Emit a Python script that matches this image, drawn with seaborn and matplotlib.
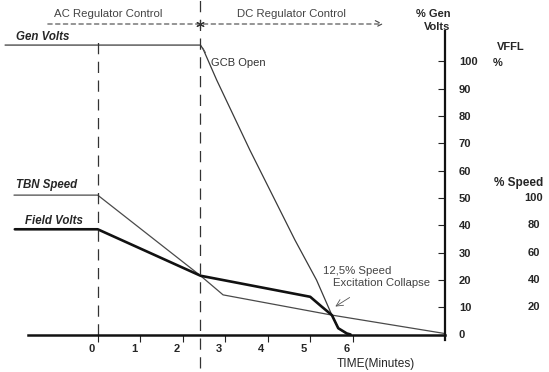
import matplotlib
matplotlib.use("Agg")
import matplotlib.pyplot as plt
import seaborn as sns
import pandas as pd

sns.set_theme(style="white")
plt.rcParams['font.family'] = ['Liberation Sans', 'DejaVu Sans']

# ---- data (time in minutes, value in % gen volts scale) ----
gen_t = [-2.18, 2.42, 2.49, 2.80, 3.58, 4.64, 5.15, 5.51, 5.66, 5.86]
gen_v = [105.9, 105.9, 104.1, 93.1, 67.5, 34.6, 19.9, 7.1, 2.3, 0.2]

tbn_t = [-1.97, 0.0, 2.42, 2.95, 5.51, 8.15]
tbn_v = [51.0, 51.0, 21.5, 14.5, 7.1, 0.4]

fld_t = [-1.95, 0.0, 2.42, 5.00, 5.27, 5.51, 5.66, 5.86, 5.95]
fld_v = [38.5, 38.5, 21.5, 13.8, 10.2, 7.1, 2.3, 0.4, 0.0]

x_ticks = [0, 1, 2, 3, 4, 5, 6]
y_ticks = [0, 10, 20, 30, 40, 50, 60, 70, 80, 90, 100]
speed_labels = ["100", "80", "60", "40", "20"]
speed_at = [50, 40, 30, 20, 10]
axis_t = 8.17
dc_start_t = 2.41

W, H = 549, 372
fig = plt.figure(figsize=(W / 100, H / 100), dpi=100)
ax = fig.add_axes([0, 0, 1, 1])

# pixel mapping: t=0 -> x 97.7, 42.5 px/min ; v=0 -> y 334.5, 2.733 px/unit
x0, sx = 97.7, 42.5
y0, sy = 334.5, 2.733
ax.set_xlim(-x0 / sx, (W - x0) / sx)
ax.set_ylim((y0 - H) / sy, y0 / sy)

def P(x, y):
    return ((x - x0) / sx, (y0 - y) / sy)

gen = pd.DataFrame({"t": gen_t, "v": gen_v})
tbn = pd.DataFrame({"t": tbn_t, "v": tbn_v})
fld = pd.DataFrame({"t": fld_t, "v": fld_v})

sns.lineplot(data=gen, x="t", y="v", ax=ax, sort=False, color="#3a3a3a", lw=0.9, estimator=None)
sns.lineplot(data=tbn, x="t", y="v", ax=ax, sort=False, color="#4a4a4a", lw=0.9, estimator=None)
sns.lineplot(data=fld, x="t", y="v", ax=ax, sort=False, color="#111111", lw=1.9, estimator=None)

# axes styling: right axis & baseline
for s in ["top", "left"]:
    ax.spines[s].set_visible(False)
ax.spines["right"].set_position(("data", axis_t))
ax.spines["right"].set_bounds(-2, 111)
ax.spines["right"].set_linewidth(1.6)
ax.spines["right"].set_color("#111111")
ax.spines["bottom"].set_position(("data", 0))
ax.spines["bottom"].set_bounds(P(28, 0)[0], axis_t)
ax.spines["bottom"].set_linewidth(1.8)
ax.spines["bottom"].set_color("#111111")
ax.set_xlabel("")
ax.set_ylabel("")
ax.yaxis.tick_right()
ax.set_yticks(y_ticks)
ax.set_yticklabels([str(v) for v in y_ticks], fontsize=8, fontweight="bold", ha="left")
ax.tick_params(axis="y", direction="in", length=5, width=0.8, color="#222222", pad=10, right=True)
ax.set_xticks(x_ticks)
ax.set_xticklabels([])
ax.tick_params(axis="x", direction="out", length=5, width=0.8, color="#222222", bottom=True)
for t in x_ticks:
    ax.text(t - 0.15, -3.5, str(t), ha="center", va="top", fontsize=8, fontweight="bold")

# speed labels
for lab, v in zip(speed_labels, speed_at):
    ax.text(P(534, 0)[0], v, lab, ha="center", va="center", fontsize=8, fontweight="bold")

# vertical dashed lines
ax.axvline(0, ymin=(H - 335) / H, ymax=(H - 42) / H, color="#333333", lw=0.9, dashes=(9, 6))
ax.axvline(dc_start_t, ymin=(H - 368) / H, ymax=1.0, color="#333333", lw=0.9, dashes=(9, 6))

# header arrow
hx1, hy = P(45, 24)
hx2, _ = P(386, 24)
ax.annotate("", xy=(hx2, hy), xytext=(hx1, hy),
            arrowprops=dict(arrowstyle="->", color="#444444", lw=0.8, linestyle=(0, (4, 3))))
ax.plot([dc_start_t], [hy], marker=(6, 2, 0), color="#333333", ms=6, mew=0.8)

def T(x, y, s, **kw):
    fig.text(x / W, 1 - y / H, s, **kw)

T(108, 14, "AC Regulator Control", ha="center", va="center", fontsize=8.2, color="#444444")
T(291, 14, "DC Regulator Control", ha="center", va="center", fontsize=8.2, color="#444444")
T(433, 14, "% Gen", ha="center", va="center", fontsize=8, fontweight="bold")
T(437, 27, "Volts", ha="center", va="center", fontsize=8, fontweight="bold")
T(511, 47, "VFFL", ha="center", va="center", fontsize=8, fontweight="bold")
T(498, 63, "%", ha="center", va="center", fontsize=8, fontweight="bold")
T(519, 183, "% Speed", ha="center", va="center", fontsize=8.5, fontweight="bold")
T(43, 37, "Gen Volts", ha="center", va="center", fontsize=8.3, fontweight="bold", fontstyle="italic")
T(47, 185, "TBN Speed", ha="center", va="center", fontsize=8.3, fontweight="bold", fontstyle="italic")
T(54, 221, "Field Volts", ha="center", va="center", fontsize=8.3, fontweight="bold", fontstyle="italic")
T(211, 63, "GCB Open", ha="left", va="center", fontsize=8, color="#333333")
T(323, 271, "12,5% Speed", ha="left", va="center", fontsize=8.2, color="#444444")
T(333, 283, "Excitation Collapse", ha="left", va="center", fontsize=8.2, color="#444444")
T(376, 364, "TIME(Minutes)", ha="center", va="center", fontsize=8.6)

# small pointers
ax.annotate("", xy=P(333, 308), xytext=P(352, 296),
            arrowprops=dict(arrowstyle="->", color="#555555", lw=0.6))
ax.annotate("", xy=P(201, 45), xytext=P(207, 55),
            arrowprops=dict(arrowstyle="-", color="#555555", lw=0.6))

ax.grid(False)
fig.savefig("out.png", dpi=100)
